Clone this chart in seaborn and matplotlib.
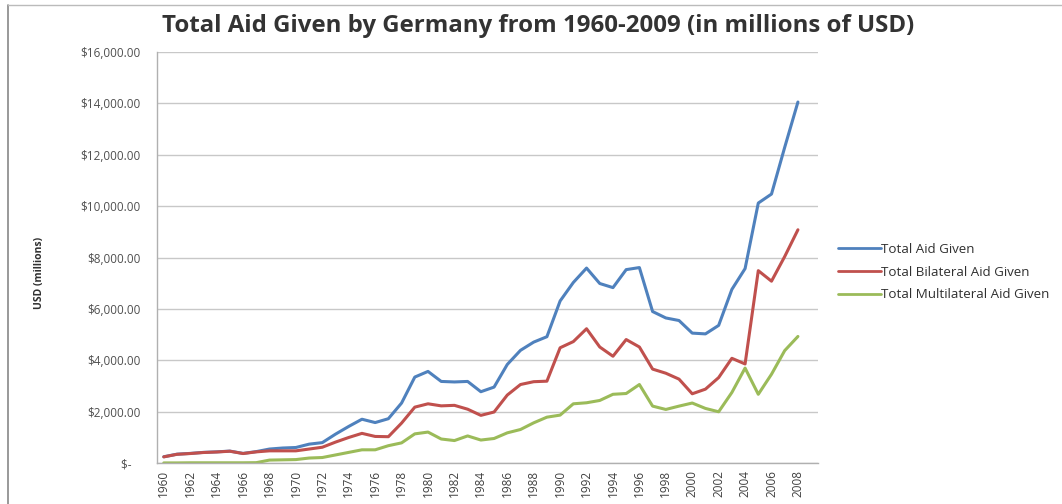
import matplotlib
matplotlib.use("Agg")
import matplotlib.pyplot as plt
import seaborn as sns
import pandas as pd
import numpy as np
from matplotlib.ticker import FuncFormatter, MultipleLocator
from matplotlib.lines import Line2D

years = list(range(1960, 2009))

total_aid = [250, 350, 380, 420, 440, 470, 380, 450, 550, 590,
             610, 740, 800, 1130, 1430, 1710, 1580, 1730, 2340, 3350,
             3570, 3180, 3160, 3180, 2780, 2960, 3840, 4390, 4710, 4920,
             6310, 7030, 7590, 6990, 6830, 7530, 7610, 5900, 5650, 5550,
             5060, 5030, 5360, 6760, 7570, 10120, 10470, 12290, 14050]

bilateral_aid = [245, 345, 375, 415, 435, 465, 375, 440, 480, 480,
                 480, 550, 620, 820, 1000, 1160, 1040, 1030, 1560, 2180,
                 2310, 2230, 2250, 2100, 1860, 1990, 2650, 3060, 3170, 3190,
                 4490, 4730, 5230, 4520, 4160, 4810, 4520, 3660, 3500, 3270,
                 2700, 2880, 3330, 4080, 3860, 7490, 7080, 8040, 9080]

multilateral_aid = [10, 10, 15, 15, 15, 15, 15, 20, 120, 130,
                    140, 200, 220, 320, 420, 520, 520, 680, 790, 1140,
                    1210, 940, 880, 1060, 900, 960, 1180, 1310, 1570, 1790,
                    1870, 2310, 2350, 2440, 2680, 2710, 3060, 2220, 2090, 2220,
                    2340, 2130, 2000, 2750, 3700, 2680, 3460, 4380, 4930]

series_names = ["Total Aid Given", "Total Bilateral Aid Given", "Total Multilateral Aid Given"]
colors = ["#4F81BD", "#C0504D", "#9BBB59"]

df = pd.DataFrame({
    "Year": years * 3,
    "Value": total_aid + bilateral_aid + multilateral_aid,
    "Series": [series_names[0]] * len(years) + [series_names[1]] * len(years) + [series_names[2]] * len(years),
})

sns.set_theme(style="white")
plt.rcParams['font.family'] = ['Open Sans', 'DejaVu Sans']

fig = plt.figure(figsize=(10.62, 5.04), dpi=100)
ax = fig.add_axes([0.148, 0.081, 0.622, 0.816])

sns.lineplot(data=df, x="Year", y="Value", hue="Series", palette=colors,
             linewidth=2.2, ax=ax, legend=False, sort=False)

ax.set_xlim(1959.5, 2009.5)
ax.set_ylim(0, 16000)
ax.yaxis.set_major_locator(MultipleLocator(2000))
ax.set_xticks(list(range(1960, 2009, 2)))
ax.set_xticklabels([str(y) for y in range(1960, 2009, 2)], rotation=90, fontsize=8.5, color="#404040")

def fmt(v, pos):
    if v == 0:
        return "$-   "
    return "${:,.2f}".format(v)
ax.yaxis.set_major_formatter(FuncFormatter(fmt))
ax.tick_params(axis="y", labelsize=8.5, colors="#505050", pad=12, length=0)
ax.tick_params(axis="x", length=0, pad=5)

ax.grid(axis="y", color="#c8c8c8", linewidth=1)
ax.set_axisbelow(True)
for s in ["top", "right"]:
    ax.spines[s].set_visible(False)
for s in ["left", "bottom"]:
    ax.spines[s].set_color("#b0b0b0")
    ax.spines[s].set_linewidth(1)

ax.set_xlabel("")
ax.set_ylabel("USD (millions)", fontsize=7.5, fontweight="bold", color="#303030")
ax.yaxis.set_label_coords(-0.17, 0.463)

fig.text(0.507, 0.948, "Total Aid Given by Germany from 1960-2009 (in millions of USD)",
         ha="center", va="center", fontsize=17.3, fontweight="bold", color="#333333")

handles = [Line2D([0], [0], color=c, linewidth=2) for c in colors]
leg = fig.legend(handles, series_names, loc="center left", bbox_to_anchor=(0.789, 0.46),
                 frameon=False, fontsize=9.6, handlelength=3.2, handletextpad=0.0,
                 labelspacing=0.72, labelcolor="#303030", borderpad=0, borderaxespad=0)

# chart border remnants
fig.add_artist(Line2D([0.0075, 0.0075], [0.0, 0.99], transform=fig.transFigure, color="#888888", linewidth=1.2))
fig.add_artist(Line2D([0.0075, 1.0], [0.99, 0.99], transform=fig.transFigure, color="#bbbbbb", linewidth=1.0))

fig.savefig("out.png", dpi=100)
